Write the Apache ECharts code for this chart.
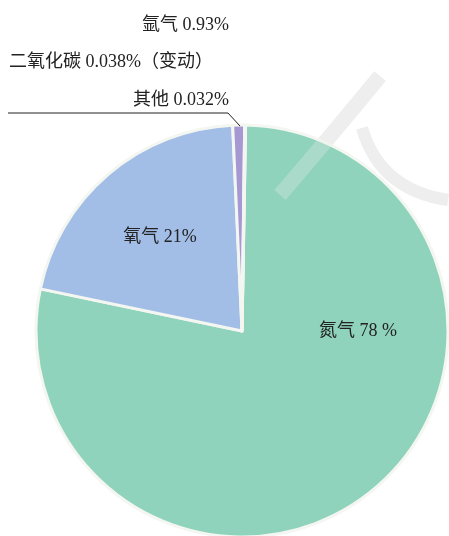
<!DOCTYPE html>
<html>
<head>
<meta charset="utf-8">
<script src="https://cdn.jsdelivr.net/npm/echarts@6/dist/echarts.min.js"></script>
<style>html,body{margin:0;padding:0;background:#fff;}#c{width:449px;height:536px;}</style>
</head>
<body>
<div id="c"></div>
<script>
const names = ['氮气', '氧气', '氩气', '二氧化碳', '其他'];
const values = [78, 21, 0.93, 0.038, 0.032];
const labelTexts = ['氮气 78 %', '氧气 21%', '氩气 0.93%', '二氧化碳 0.038%（变动）', '其他 0.032%'];
const colors = ['#8fd3bc', '#a2bee6', '#a698d2', '#a698d2', '#a698d2'];

const labelPos = [
  {x: 358, y: 331, align: 'center', verticalAlign: 'middle'},
  {x: 160, y: 237, align: 'center', verticalAlign: 'middle'},
  {x: 229, y: 25, align: 'right', verticalAlign: 'middle'},
  {x: 9, y: 62, align: 'left', verticalAlign: 'middle'},
  {x: 229, y: 100, align: 'right', verticalAlign: 'middle'}
];

const chart = echarts.init(document.getElementById('c'));
const font = "'Liberation Serif', 'Noto Sans CJK SC', serif";
chart.setOption({
  animation: false,
  backgroundColor: '#ffffff',
  graphic: [
    {type: 'bezierCurve', z: 5, shape: {x1: 380, y1: 76, cpx1: 340, cpy1: 125, x2: 280, y2: 195}, style: {fill: 'none', stroke: 'rgba(235,235,235,0.3)', lineWidth: 15}},
    {type: 'bezierCurve', z: -10, shape: {x1: 380, y1: 76, cpx1: 340, cpy1: 125, x2: 280, y2: 195}, style: {fill: 'none', stroke: '#efefef', lineWidth: 15}},
    {type: 'bezierCurve', z: 5, shape: {x1: 362, y1: 128, cpx1: 380, cpy1: 190, x2: 448, y2: 200}, style: {fill: 'none', stroke: 'rgba(235,235,235,0.3)', lineWidth: 12}},
    {type: 'bezierCurve', z: -10, shape: {x1: 362, y1: 128, cpx1: 380, cpy1: 190, x2: 448, y2: 200}, style: {fill: 'none', stroke: '#efefef', lineWidth: 12}},
    {type: 'polyline', z: 10, shape: {points: [[8, 113], [228, 113], [240, 126]]}, style: {stroke: '#222', lineWidth: 1, fill: 'none'}}
  ],
  series: [{
    type: 'pie',
    center: [242, 331],
    radius: 206,
    startAngle: 89,
    clockwise: true,
    avoidLabelOverlap: false,
    data: names.map((n, i) => ({
      name: n,
      value: values[i],
      itemStyle: {color: colors[i]}
    })),
    itemStyle: {borderColor: '#f4f6f1', borderWidth: 3},
    label: {
      show: true,
      formatter: p => labelTexts[p.dataIndex],
      fontFamily: font,
      fontSize: 18,
      color: '#222'
    },
    labelLine: {show: false},
    labelLayout: p => labelPos[p.dataIndex]
  }]
});
</script>
</body>
</html>
